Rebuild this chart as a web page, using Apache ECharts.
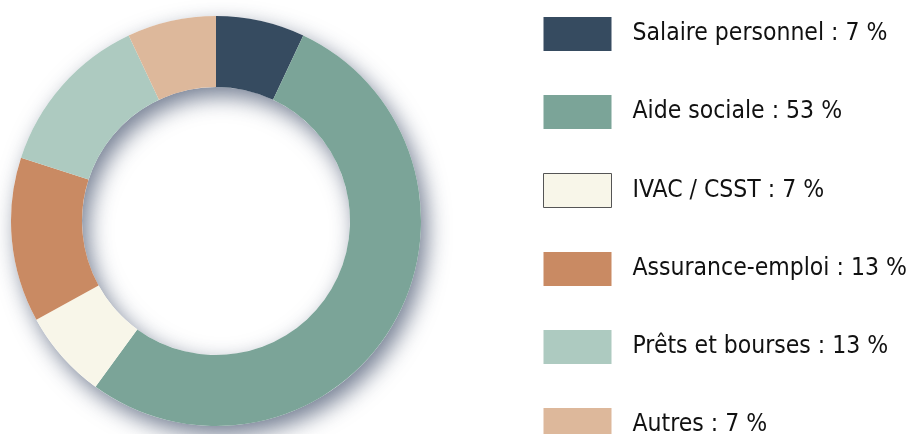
<!DOCTYPE html>
<html>
<head>
<meta charset="utf-8">
<script src="https://cdn.jsdelivr.net/npm/echarts@6/dist/echarts.min.js"></script>
<style>
  html, body { margin: 0; padding: 0; background: #fff; }
  #chart { width: 910px; height: 434px; }
</style>
</head>
<body>
<div id="chart"></div>
<script>
// sources de revenu (%)
const categories = ["Salaire personnel", "Aide sociale", "IVAC / CSST", "Assurance-emploi", "Prêts et bourses", "Autres"];
const values = [7, 53, 7, 13, 13, 7];
const colors = ["#364b60", "#7ba498", "#f8f6e9", "#c98a63", "#adcac0", "#ddb89b"];

const chart = echarts.init(document.getElementById("chart"));

const pieData = categories.map((name, i) => ({
  name: name,
  value: values[i],
  itemStyle: { color: colors[i] }
}));

const legendData = categories.map((name, i) => {
  const item = { name: name };
  if (i === 2) {
    item.itemStyle = { borderColor: "#555", borderWidth: 1 };
  }
  return item;
});

const option = {
  animation: false,
  legend: {
    orient: "vertical",
    left: 543,
    top: 17,
    height: 480,
    padding: 0,
    itemWidth: 68,
    itemHeight: 34,
    itemGap: 44,
    icon: "rect",
    selectedMode: false,
    data: legendData,
    formatter: name => name + " : " + values[categories.indexOf(name)] + " %",
    textStyle: {
      fontFamily: "'Liberation Sans Narrow', 'DejaVu Sans Condensed', Roboto, sans-serif",
      fontSize: 24.5,
      color: "#111",
      padding: [0, 0, 0, 16]
    }
  },
  series: [
    {
      // anneau d'ombre sous le graphique
      type: "pie",
      silent: true,
      center: [216, 221],
      radius: [134, 205],
      label: { show: false },
      labelLine: { show: false },
      itemStyle: {
        color: "#fff",
        shadowColor: "rgba(45, 60, 90, 0.65)",
        shadowBlur: 22,
        shadowOffsetX: 6,
        shadowOffsetY: 9
      },
      data: [{ value: 1, name: "_shadow" }]
    },
    {
      type: "pie",
      silent: true,
      center: [216, 221],
      radius: [134, 205],
      startAngle: 90,
      clockwise: true,
      label: { show: false },
      labelLine: { show: false },
      itemStyle: { borderWidth: 0 },
      data: pieData
    }
  ]
};

chart.setOption(option);
</script>
</body>
</html>
